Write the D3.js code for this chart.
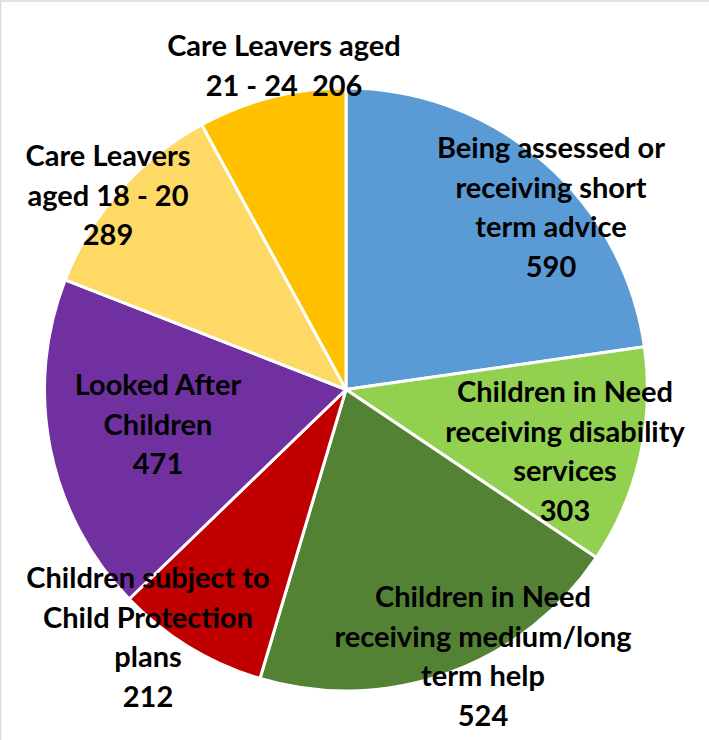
<!DOCTYPE html>
<html>
<head>
<meta charset="utf-8">
<script src="https://cdn.jsdelivr.net/npm/d3@7"></script>
<style>
  html, body { margin: 0; padding: 0; background: #fff; }
  svg { display: block; }
</style>
</head>
<body>
<div id="chart"></div>
<script>
// Data
var categories = [
  "Being assessed or receiving short term advice",
  "Children in Need receiving disability services",
  "Children in Need receiving medium/long term help",
  "Children subject to Child Protection plans",
  "Looked After Children",
  "Care Leavers aged 18 - 20",
  "Care Leavers aged 21 - 24"
];
var values = [590, 303, 524, 212, 471, 289, 206];
var colours = ["#5B9BD5", "#92D050", "#548235", "#C00000", "#7030A0", "#FFD966", "#FFC000"];

// label text lines
var labelLines = [
  ["Being assessed or", "receiving short", "term advice", "590"],
  ["Children in Need", "receiving disability", "services", "303"],
  ["Children in Need", "receiving medium/long", "term help", "524"],
  ["Children subject to", "Child Protection", "plans", "212"],
  ["Looked After", "Children", "471"],
  ["Care Leavers", "aged 18 - 20", "289"],
  ["Care Leavers aged", "21 - 24  206"]
];
// label anchor (centre of first line)
var labelPos = [
  [551, 148], [565, 392], [483, 597], [148, 578], [158, 385], [108, 156], [284, 46]
];

var width = 709, height = 740;
var cx = 346, cy = 389.5, radius = 301.5;
var lineGap = 39.5;

var svg = d3.select("#chart").append("svg")
  .attr("width", width)
  .attr("height", height);

// frame (only top / left visible in the original)
svg.append("rect")
  .attr("x", 0.5).attr("y", 1)
  .attr("width", width + 10).attr("height", height + 10)
  .style("fill", "none")
  .style("stroke", "#d9d9d9")
  .style("stroke-width", 1.5);

var pie = d3.pie().sort(null).value(function(d) { return d; });
var arc = d3.arc().innerRadius(0).outerRadius(radius);

var g = svg.append("g").attr("transform", "translate(" + cx + "," + cy + ")");

g.selectAll("path")
  .data(pie(values))
  .enter().append("path")
  .attr("d", arc)
  .style("fill", function(d, i) { return colours[i]; })
  .style("stroke", "#fff")
  .style("stroke-width", 3)
  .style("stroke-linejoin", "round");

// Labels
var labels = svg.append("g")
  .style("font-family", "Lato, 'Open Sans', sans-serif")
  .style("font-weight", "bold")
  .style("font-size", "29px")
  .style("fill", "#000");

for (var i = 0; i < labelLines.length; i++) {
  var t = labels.append("text")
    .attr("xml:space", "preserve")
    .attr("text-anchor", "middle");
  for (var j = 0; j < labelLines[i].length; j++) {
    t.append("tspan")
      .attr("x", labelPos[i][0])
      .attr("y", labelPos[i][1] + j * lineGap)
      .attr("dy", "0.36em")
      .text(labelLines[i][j]);
  }
}
</script>
</body>
</html>
